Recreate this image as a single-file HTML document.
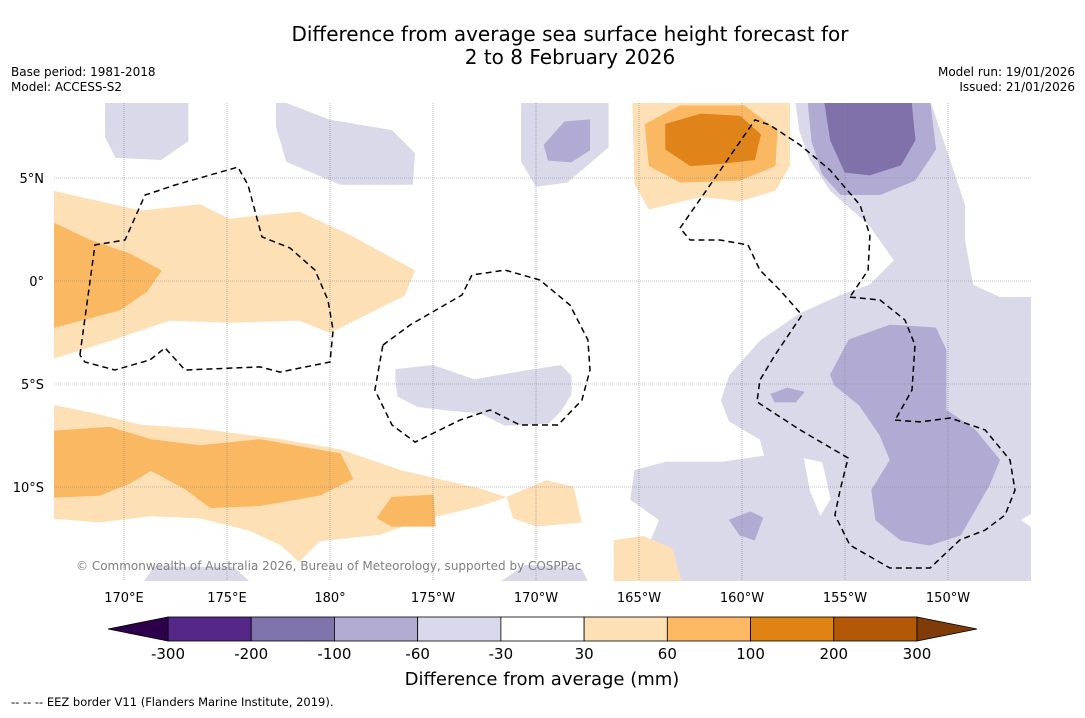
<!DOCTYPE html>
<html><head><meta charset="utf-8">
<style>
body{margin:0;background:#fff;font-family:"Liberation Sans",sans-serif;}
svg text{font-family:"DejaVu Sans","Liberation Sans",sans-serif;}
</style></head>
<body>
<svg id="chart" width="1085" height="713" viewBox="0 0 1085 713">
<rect width="1085" height="713" fill="#fff"/>
<text x="570" y="41" font-size="20" text-anchor="middle">Difference from average sea surface height forecast for</text>
<text x="570" y="64" font-size="20" text-anchor="middle">2 to 8 February 2026</text>
<text x="11" y="76" font-size="12">Base period: 1981-2018</text>
<text x="11" y="91" font-size="12">Model: ACCESS-S2</text>
<text x="1075" y="76" font-size="12" text-anchor="end">Model run: 19/01/2026</text>
<text x="1075" y="91" font-size="12" text-anchor="end">Issued: 21/01/2026</text>
<defs><clipPath id="mapclip"><rect x="54" y="103" width="977" height="478"/></clipPath></defs>
<g id="map" clip-path="url(#mapclip)"></g>
<g id="axes"></g>
<g id="cbar"></g>
<text x="542" y="685" font-size="18" text-anchor="middle">Difference from average (mm)</text>
<text x="11" y="706" font-size="11.5">-- -- -- EEZ border V11 (Flanders Marine Institute, 2019).</text>
</svg>
<script>
const lonTicks=[170,175,180,185,190,195,200,205,210];
const lonLabels=["170°E","175°E","180°","175°W","170°W","165°W","160°W","155°W","150°W"];
const latTicks=[5,0,-5,-10];
const latLabels=["5°N","0°","5°S","10°S"];
const cbLevels=[-300,-200,-100,-60,-30,30,60,100,200,300];
const cbColors=["#542788","#8073ac","#b2abd2","#d8daeb","#ffffff","#fee0b6","#fdb863","#e08214","#b35806"];
const C={lo:"#fde0b6",mo:"#fbb863",do:"#e08419",lp:"#d9d9ea",mp:"#b1aad2",dp:"#8071aa",w:"#ffffff"};
const contours=[
 {c:"lp",p:[[169.1,8.8],[173.1,8.8],[173.1,6.8],[171.8,5.9],[169.6,6.0],[169.1,7.0]]},
 {c:"lp",p:[[177.4,8.8],[180,7.8],[183,7.3],[184.1,6.2],[184,4.7],[180.5,4.7],[177.9,5.8],[177.4,7.5]]},
 {c:"lp",p:[[189.3,8.8],[193.5,8.8],[193.5,6.5],[191.5,4.8],[190,4.6],[189.3,5.8]]},
 {c:"lp",p:[[183.2,-4.3],[185,-4.1],[187,-4.8],[189.3,-4.4],[191.2,-4.1],[191.7,-4.6],[191.7,-5.5],[191.2,-6.3],[190.6,-6.9],[188.5,-7.0],[187.3,-6.4],[186,-6.3],[184.3,-6.1],[183.3,-5.6],[183.2,-4.9]]},
 {c:"lp",p:[[202.6,8.8],[209.1,8.8],[209.9,6.4],[210.8,3.7],[210.8,2.0],[211.2,-0.2],[212.5,-0.8],[214.5,-0.8],[214.5,-11.0],[213.5,-11.6],[214.5,-12.3],[214.5,-14.8],[194.5,-14.8],[196.0,-13.8],[195.5,-12.8],[196.0,-11.6],[194.6,-10.6],[194.8,-9.2],[196.3,-8.8],[199.0,-8.8],[201.1,-8.5],[200.9,-7.7],[199.4,-6.8],[199.0,-5.8],[199.4,-4.6],[200.9,-2.9],[202.8,-1.6],[204.8,-0.7],[206.2,-0.2],[207.4,1.0],[206.2,2.7],[204.3,4.4],[203.3,5.9],[202.8,7.3]]},
 {c:"w",p:[[203.0,-8.6],[203.9,-8.8],[204.3,-10.6],[203.8,-11.4],[203.3,-10.2]]},
 {c:"lp",p:[[170.8,-14.8],[171.5,-13.9],[175.3,-13.9],[176.3,-14.8]]},
 {c:"lp",p:[[188.0,-14.8],[189.5,-13.8],[192.2,-14.0],[192.6,-14.8]]},
 {c:"mp",p:[[203.2,8.8],[209.1,8.8],[209.4,6.4],[208.4,4.9],[206.7,4.2],[204.8,4.2],[203.9,5.2],[203.4,6.8]]},
 {c:"dp",p:[[204.0,8.8],[208.2,8.8],[208.4,6.84],[207.7,5.63],[206.2,5.15],[205.0,5.29],[204.3,6.84]]},
 {c:"mp",p:[[190.4,6.6],[191.4,7.72],[192.6,7.82],[192.6,6.36],[191.7,5.78],[190.6,5.87]]},
 {c:"mp",p:[[204.3,-4.56],[205.2,-2.86],[207.2,-2.14],[209.4,-2.28],[209.9,-3.35],[209.9,-6.26],[211.3,-7.23],[212.5,-8.69],[212.0,-9.9],[211.3,-11.12],[210.6,-12.33],[209.1,-12.82],[207.7,-12.57],[206.5,-11.6],[206.3,-10.15],[207.2,-8.69],[206.7,-7.48],[205.7,-6.02],[204.5,-5.05]]},
 {c:"mp",p:[[201.4,-5.5],[202.2,-5.2],[203.0,-5.4],[202.6,-5.87],[201.6,-5.87]]},
 {c:"mp",p:[[199.4,-11.6],[200.4,-11.21],[201.0,-11.5],[200.6,-12.57],[199.9,-12.33]]},
 {c:"lo",p:[[166.4,4.4],[170.8,3.4],[173.7,3.7],[175.1,3.0],[178.5,3.35],[181,2.2],[184.1,0.5],[183.6,-0.7],[180,-2.5],[178.5,-1.9],[175.1,-2.0],[172.2,-1.9],[169.3,-2.9],[166.4,-3.8]]},
 {c:"mo",p:[[166.4,2.9],[168.3,2.0],[170.3,1.3],[171.8,0.5],[171.1,-0.5],[169.8,-1.4],[168.3,-1.8],[166.4,-2.3]]},
 {c:"lo",p:[[166.4,-6.0],[168.8,-6.5],[170.8,-7.0],[173.7,-7.2],[177.6,-7.7],[180.5,-8.2],[183.4,-9.2],[187.3,-10.1],[188.5,-10.5],[187.3,-10.9],[184.4,-11.6],[182.4,-12.3],[179.5,-12.6],[178.5,-13.6],[177.6,-12.8],[176.1,-12.1],[173.7,-11.5],[171.3,-11.4],[168.8,-11.7],[166.4,-11.5]]},
 {c:"mo",p:[[166.4,-7.3],[169.3,-7.1],[171.3,-7.7],[173.7,-8.0],[176.6,-7.7],[180.5,-8.4],[181.1,-9.6],[179.5,-10.4],[176.6,-10.9],[174.2,-11.0],[173.0,-10.1],[171.7,-9.4],[171.3,-9.2],[170.3,-9.8],[168.8,-10.4],[166.4,-10.5]]},
 {c:"mo",p:[[182.3,-11.5],[183,-10.5],[185,-10.4],[185.1,-11.9],[183,-11.9]]},
 {c:"lo",p:[[188.6,-10.5],[190.5,-9.7],[191.8,-10.0],[192.2,-11.7],[190,-11.9],[188.9,-11.5]]},
 {c:"lo",p:[[193.8,-12.6],[195.2,-12.4],[196.6,-13.0],[197.1,-14.8],[193.8,-14.8]]},
 {c:"lo",p:[[194.7,8.8],[202.3,8.8],[202.3,5.6],[201.6,4.4],[199.9,3.9],[198,4.1],[195.5,3.5],[194.8,4.7]]},
 {c:"mo",p:[[195.3,7.6],[197,8.5],[200.1,8.5],[201.7,7.3],[201.6,5.6],[199.9,4.9],[197,4.8],[195.5,5.6]]},
 {c:"do",p:[[196.3,7.6],[198,8.1],[199.9,8.0],[200.9,7.1],[200.6,5.9],[198.9,5.7],[197.5,5.6],[196.3,6.4]]}
];
const eezLines=[
 [[167.86,-3.59],[168.59,1.75],[170.05,1.99],[171.02,4.17],[172.48,4.66],[175.53,5.53],[176.02,4.66],[176.7,2.14],[178.06,1.6],[179.27,0.53],[179.9,-0.92],[180.15,-2.38],[180,-3.93],[177.57,-4.42],[176.6,-4.17],[172.96,-4.32],[171.99,-3.25],[171.26,-3.83],[169.56,-4.32],[168.1,-3.93],[167.86,-3.59]],
 [[182.57,-3.11],[183.88,-2.14],[186.41,-0.68],[186.89,0.29],[188.5,0.53],[190.19,0.05],[191.65,-1.17],[192.52,-2.86],[192.62,-4.32],[192.23,-5.78],[191.07,-6.99],[189.22,-6.99],[187.77,-6.26],[186.31,-6.75],[184.13,-7.82],[183.01,-6.99],[182.18,-5.29],[182.57,-3.11]],
 [[196.99,2.57],[198.45,4.66],[200.63,7.82],[201.36,7.57],[202.82,6.6],[204.27,5.39],[205.73,3.69],[206.21,2.23],[206.12,0.53],[205.24,-0.78]],
 [[205.24,-0.78],[206.7,-0.92],[207.91,-1.89],[208.4,-3.11],[208.25,-5.29],[207.43,-6.75]],
 [[207.43,-6.75],[208.64,-6.84],[210.1,-6.65],[211.8,-7.23],[213.01,-8.69],[213.25,-10.15],[212.77,-11.36],[211.8,-12.09],[210.58,-12.57],[209.13,-13.93],[207.18,-13.93],[205.24,-12.82],[204.51,-11.36],[204.76,-10.15],[205.15,-8.59],[202.82,-7.23],[200.73,-5.87],[200.87,-4.81],[201.6,-3.59],[202.91,-1.65],[201.84,-0.44],[200.87,0.53],[200.29,1.75],[198.93,1.99],[197.48,1.99],[196.99,2.57]]
];
const X=lon=>124+(lon-170)*20.6;
const Y=lat=>281-lat*20.6;
const NS="http://www.w3.org/2000/svg";
const map=document.getElementById('map');
function mk(tag,parent){const e=document.createElementNS(NS,tag);parent.appendChild(e);return e;}
contours.forEach((c,i)=>{
 const e=mk('polygon',map);
 e.setAttribute('points',c.p.map(q=>X(q[0]).toFixed(1)+','+Y(q[1]).toFixed(1)).join(' '));
 e.setAttribute('fill',C[c.c]);
 e.setAttribute('stroke',c.c==='w'?'none':C[c.c]);
 e.setAttribute('stroke-width','1');
 
 
});
const grid=mk('g',map);
lonTicks.forEach(l=>{const e=mk('line',grid);e.setAttribute('x1',X(l));e.setAttribute('x2',X(l));e.setAttribute('y1',103);e.setAttribute('y2',581);e.setAttribute('stroke','#888');e.setAttribute('stroke-width','0.6');e.setAttribute('stroke-dasharray','1,1');

});
latTicks.forEach(l=>{const e=mk('line',grid);e.setAttribute('x1',54);e.setAttribute('x2',1031);e.setAttribute('y1',Y(l));e.setAttribute('y2',Y(l));e.setAttribute('stroke','#888');e.setAttribute('stroke-width','0.6');e.setAttribute('stroke-dasharray','1,1');

});
eezLines.forEach(L=>{const e=mk('polyline',map);
 e.setAttribute('points',L.map(q=>X(q[0]).toFixed(1)+','+Y(q[1]).toFixed(1)).join(' '));
 e.setAttribute('fill','none');e.setAttribute('stroke','#000');e.setAttribute('stroke-width','1.5');e.setAttribute('stroke-dasharray','6,4');
 
 });
const cp=mk('text',map);cp.textContent='© Commonwealth of Australia 2026, Bureau of Meteorology, supported by COSPPac';
cp.setAttribute('x',76);cp.setAttribute('y',570);cp.setAttribute('font-size','12');cp.setAttribute('fill','#808080');


const ax=document.getElementById('axes');
lonTicks.forEach((l,i)=>{const t=mk('text',ax);t.textContent=lonLabels[i];t.setAttribute('x',X(l));t.setAttribute('y',602);t.setAttribute('font-size','13');t.setAttribute('text-anchor','middle');

});
latTicks.forEach((l,i)=>{const t=mk('text',ax);t.textContent=latLabels[i];t.setAttribute('x',44);t.setAttribute('y',Y(l)+5);t.setAttribute('font-size','13');t.setAttribute('text-anchor','end');

});
const cb=document.getElementById('cbar');
const cx0=168,cx1=917,cy=617,ch=24,n=cbColors.length,w=(cx1-cx0)/n;
cbColors.forEach((c,i)=>{const r=mk('rect',cb);r.setAttribute('x',cx0+i*w);r.setAttribute('y',cy);r.setAttribute('width',w);r.setAttribute('height',ch);r.setAttribute('fill',c);r.setAttribute('stroke','#000');r.setAttribute('stroke-width','0.8');

});
const lt=mk('polygon',cb);lt.setAttribute('points',`${cx0},${cy} 108,${cy+ch/2} ${cx0},${cy+ch}`);lt.setAttribute('fill','#2d004b');lt.setAttribute('stroke','#000');lt.setAttribute('stroke-width','0.8');


const rt=mk('polygon',cb);rt.setAttribute('points',`${cx1},${cy} 977,${cy+ch/2} ${cx1},${cy+ch}`);rt.setAttribute('fill','#7f3b08');rt.setAttribute('stroke','#000');rt.setAttribute('stroke-width','0.8');


cbLevels.forEach((v,i)=>{const t=mk('text',cb);t.textContent=v;t.setAttribute('x',cx0+i*w);t.setAttribute('y',659);t.setAttribute('font-size','15');t.setAttribute('text-anchor','middle');

});
</script>
</body></html>
